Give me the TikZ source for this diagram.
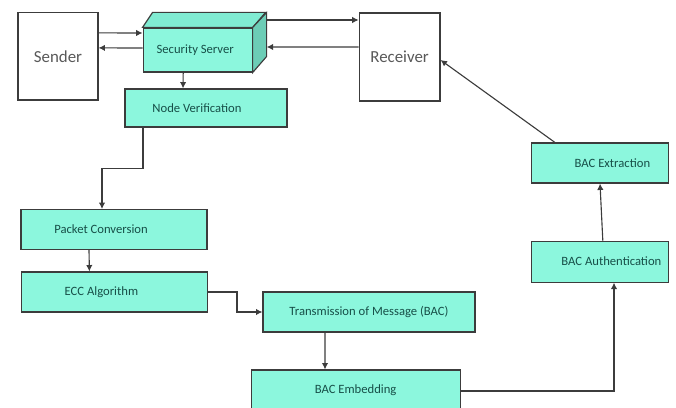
\documentclass[tikz,border=0pt]{standalone}
\usepackage{fontspec}
\setmainfont{Carlito}
\usetikzlibrary{arrows.meta}
\definecolor{boxFill}{HTML}{8CF7DD}
\definecolor{boxTop}{HTML}{80EBD2}
\definecolor{boxSide}{HTML}{6CCDB6}
\definecolor{boxText}{HTML}{174F48}
\definecolor{lineGray}{HTML}{3C3C3C}
\tikzset{%
  >={Latex[width=1.6mm,length=1.6mm]},
  % Specifications for style of nodes:
        base/.style = {rectangle, draw=lineGray, line width=0.8pt,
                       font=\fontsize{9}{11}\selectfont, text=boxText},
     endBox/.style = {base, fill=white, text=black!65,
                       font=\fontsize{12}{14}\selectfont,
                       minimum width=2cm, minimum height=2.18cm},
    process/.style = {base, fill=boxFill, minimum height=1cm},
       link/.style = {->, draw=lineGray, line width=0.8pt},
}
% text moved off the box centre
\newcommand{\leftText}[2]{\hspace*{-#1}#2}
\newcommand{\rightText}[2]{#2\hspace*{-#1}}

\begin{document}
\begin{tikzpicture}
  \useasboundingbox (0,0) rectangle (16.9,-10.2);
  % Specification of nodes (position, etc.)

\node (sender) at (1.45,-1.41)     [endBox]                 {Sender};
\node (receiver) at (9.99,-1.425)  [endBox, minimum width=2.02cm, minimum height=2.2cm] {Receiver};

\node (secServer) at (4.94,-1.25)  [process, minimum width=2.725cm, minimum height=1.1cm] {\leftText{0.12cm}{Security Server}};
% 3D faces of the server box
\draw[fill=boxTop, draw=lineGray, line width=0.8pt]
  (secServer.north west) -- ++(0.25,0.375) -- ++(2.825,0) -- (secServer.north east) -- cycle;
\draw[fill=boxSide, draw=lineGray, line width=0.8pt]
  (secServer.north east) -- ++(0.35,0.375) -- ++(0,-1.1) -- (secServer.south east) -- cycle;
\coordinate (ssBack) at ([xshift=0.35cm]secServer.east);

\node (nodeVerif) at (5.15,-2.7)     [process, minimum width=4.05cm, minimum height=0.95cm] {\leftText{0.45cm}{Node Verification}};
\node (packetConv) at (2.85,-5.74)   [process, minimum width=4.65cm] {\leftText{0.65cm}{Packet Conversion}};
\node (eccAlgo) at (2.86,-7.3)       [process, minimum width=4.65cm] {\leftText{0.65cm}{ECC Algorithm}};
\node (transMsg) at (9.225,-7.8)     [process, minimum width=5.3cm]  {Transmission of Message (BAC)};
\node (bacEmbed) at (8.89,-9.75)     [process, minimum width=5.225cm] {BAC Embedding};
\node (bacAuth) at (15.01,-6.54)     [process, minimum width=3.425cm, minimum height=1.025cm] {\rightText{0.55cm}{BAC Authentication}};
\node (bacExtract) at (15.01,-4.075) [process, minimum width=3.425cm] {\rightText{0.6cm}{BAC Extraction}};

% sender <-> server <-> receiver
\draw[link] ([yshift=0.5875cm]sender.east) -- ([yshift=0.425cm]secServer.west);
\draw[link] ([yshift=0.05cm]secServer.west) -- ([yshift=0.2125cm]sender.east);
\draw[link] ([yshift=0.75cm]ssBack) -- ([yshift=0.925cm]receiver.west);
\draw[link] ([yshift=0.25cm]receiver.west) -- ([yshift=0.075cm]ssBack);

\draw[link] ([xshift=-0.36cm]secServer.south) -- ([xshift=-0.575cm]nodeVerif.north);
\draw[link] ([xshift=-1.575cm]nodeVerif.south) -- ++(0,-1.025) -| ([xshift=-0.3cm]packetConv.north);
\draw[link] ([xshift=-0.625cm]packetConv.south) -- ([xshift=-0.625cm]eccAlgo.north);
\draw[link] (eccAlgo.east) -- ++(0.725,0) |- (transMsg.west);
\draw[link] ([xshift=-1.1cm]transMsg.south) -- ([xshift=-0.765cm]bacEmbed.north);
\draw[link] ([yshift=-0.025cm]bacEmbed.east) -| ([xshift=0.34cm]bacAuth.south);
\draw[link] ([xshift=0.06cm]bacAuth.north) -- ([xshift=-0.01cm]bacExtract.south);
\draw[link] ([xshift=-1.1375cm]bacExtract.north) -- ([yshift=-0.075cm]receiver.east);
\end{tikzpicture}
\end{document}
